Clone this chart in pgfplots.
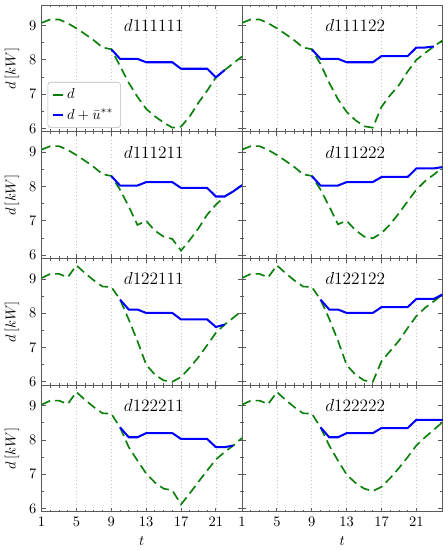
\documentclass[border=0pt]{standalone}
\usepackage{pgfplots}
\pgfplotsset{compat=1.18}
\usepgfplotslibrary{groupplots}
\definecolor{dgreen}{RGB}{10,128,10}
\definecolor{dblue}{RGB}{0,0,255}
\definecolor{framegray}{RGB}{90,90,90}
\pgfplotsset{
  dcurve/.style={dgreen, line width=1.15pt, dash pattern=on 6.5pt off 3.5pt},
  ucurve/.style={dblue, line width=1.4pt},
}
\newcommand{\ptitle}[2]{\node at (rel axis cs:#1,0.84) {\fontsize{11.5}{13}\selectfont $#2$};}
\begin{document}
\begin{tikzpicture}
\begin{groupplot}[
  group style={group size=2 by 4, horizontal sep=0pt, vertical sep=0pt,
    xticklabels at=edge bottom, yticklabels at=edge left,
    group name=G},
  width=138.6pt, height=87.6pt, scale only axis,
  xmin=1, xmax=24, ymin=5.9, ymax=9.6,
  xtick={1,5,9,13,17,21}, ytick={6,7,8,9},
  minor x tick num=3, minor y tick num=1,
  tick align=inside, tick pos=both,
  major tick length=2.8pt, minor tick length=1.6pt,
  axis line style={framegray, line width=0.7pt},
  every tick/.style={framegray, line width=0.6pt},
  xmajorgrids, grid style={gray!45, dotted, line width=0.5pt},
  legend cell align=left,
]
% ---- panel 1: d111111
\nextgroupplot[ylabel={$d\,[kW]$},
  legend style={at={(rel axis cs:0.03,0.03)}, anchor=south west, draw=gray!55, rounded corners=2pt, fill=white, inner xsep=3pt, inner ysep=2.5pt, row sep=1.5pt},
  legend image code/.code={\draw[#1] (0cm,0cm) -- (7pt,0cm);}]
\addplot[dcurve] coordinates {(1,9.08)(2,9.18)(3,9.18)(4,9.07)(5,8.92)(6,8.75)(7,8.57)(8,8.36)(9,8.31)(10,7.82)(11,7.33)(12,6.92)(13,6.57)(14,6.35)(15,6.17)(16,6.02)(17,6.05)(18,6.35)(19,6.75)(20,7.1)(21,7.49)(22,7.7)(23,7.9)(24,8.1)};
\addlegendentry{$d$}
\addplot[ucurve] coordinates {(9,8.31)(10,8.03)(11,8.03)(12,8.03)(13,7.93)(14,7.93)(15,7.93)(16,7.93)(17,7.74)(18,7.74)(19,7.74)(20,7.74)(21,7.49)(22,7.7)};
\addlegendentry{$d+\bar{u}^{**}$}
\ptitle{0.56}{d111111}
% ---- panel 2: d111122
\nextgroupplot
\addplot[dcurve] coordinates {(1,9.08)(2,9.18)(3,9.18)(4,9.07)(5,8.92)(6,8.75)(7,8.57)(8,8.36)(9,8.31)(10,7.88)(11,7.33)(12,6.85)(13,6.48)(14,6.24)(15,6.06)(16,6.02)(17,6.63)(18,6.97)(19,7.26)(20,7.66)(21,8.0)(22,8.2)(23,8.39)(24,8.57)};
\addplot[ucurve] coordinates {(9,8.31)(10,8.03)(11,8.03)(12,8.03)(13,7.93)(14,7.93)(15,7.93)(16,7.93)(17,8.11)(18,8.11)(19,8.11)(20,8.11)(21,8.36)(22,8.36)(23,8.39)};
\ptitle{0.565}{d111122}
% ---- panel 3: d111211
\nextgroupplot[ylabel={$d\,[kW]$}]
\addplot[dcurve] coordinates {(1,9.08)(2,9.18)(3,9.18)(4,9.07)(5,8.92)(6,8.75)(7,8.57)(8,8.36)(9,8.31)(10,7.91)(11,7.42)(12,6.88)(13,7.0)(14,6.71)(15,6.54)(16,6.47)(17,6.13)(18,6.44)(19,6.78)(20,7.18)(21,7.47)(22,7.71)(23,7.86)(24,8.04)};
\addplot[ucurve] coordinates {(9,8.31)(10,8.03)(11,8.03)(12,8.03)(13,8.13)(14,8.13)(15,8.13)(16,8.13)(17,7.96)(18,7.96)(19,7.96)(20,7.96)(21,7.71)(22,7.71)(23,7.86)(24,8.04)};
\ptitle{0.56}{d111211}
% ---- panel 4: d111222
\nextgroupplot
\addplot[dcurve] coordinates {(1,9.08)(2,9.18)(3,9.18)(4,9.07)(5,8.92)(6,8.75)(7,8.57)(8,8.36)(9,8.31)(10,7.91)(11,7.42)(12,6.9)(13,7.0)(14,6.73)(15,6.54)(16,6.49)(17,6.64)(18,6.9)(19,7.22)(20,7.57)(21,7.91)(22,8.16)(23,8.35)(24,8.55)};
\addplot[ucurve] coordinates {(9,8.31)(10,8.03)(11,8.03)(12,8.03)(13,8.13)(14,8.13)(15,8.13)(16,8.13)(17,8.28)(18,8.28)(19,8.28)(20,8.28)(21,8.53)(22,8.53)(23,8.53)(24,8.57)};
\ptitle{0.565}{d111222}
% ---- panel 5: d122111
\nextgroupplot[ylabel={$d\,[kW]$}]
\addplot[dcurve] coordinates {(1,9.03)(2,9.15)(3,9.15)(4,9.05)(5,9.4)(6,9.17)(7,8.96)(8,8.78)(9,8.77)(10,8.4)(11,7.82)(12,7.19)(13,6.5)(14,6.21)(15,6.04)(16,6.0)(17,6.14)(18,6.41)(19,6.72)(20,7.07)(21,7.43)(22,7.67)(23,7.87)(24,8.08)};
\addplot[ucurve] coordinates {(10,8.4)(11,8.11)(12,8.11)(13,8.01)(14,8.01)(15,8.01)(16,8.01)(17,7.82)(18,7.82)(19,7.82)(20,7.82)(21,7.6)(22,7.67)};
\ptitle{0.56}{d122111}
% ---- panel 6: d122122
\nextgroupplot
\addplot[dcurve] coordinates {(1,9.03)(2,9.15)(3,9.15)(4,9.05)(5,9.4)(6,9.17)(7,8.96)(8,8.78)(9,8.77)(10,8.4)(11,7.84)(12,7.2)(13,6.49)(14,6.21)(15,6.04)(16,6.0)(17,6.6)(18,6.9)(19,7.2)(20,7.57)(21,7.92)(22,8.16)(23,8.35)(24,8.55)};
\addplot[ucurve] coordinates {(10,8.4)(11,8.11)(12,8.11)(13,8.01)(14,8.01)(15,8.01)(16,8.01)(17,8.18)(18,8.18)(19,8.18)(20,8.18)(21,8.42)(22,8.42)(23,8.42)(24,8.55)};
\ptitle{0.565}{d122122}
% ---- panel 7: d122211
\nextgroupplot[ylabel={$d\,[kW]$}, xlabel={$t$}]
\addplot[dcurve] coordinates {(1,9.03)(2,9.15)(3,9.15)(4,9.05)(5,9.4)(6,9.17)(7,8.96)(8,8.78)(9,8.77)(10,8.37)(11,7.79)(12,7.4)(13,7.02)(14,6.76)(15,6.58)(16,6.53)(17,6.12)(18,6.44)(19,6.78)(20,7.11)(21,7.43)(22,7.65)(23,7.84)(24,8.06)};
\addplot[ucurve] coordinates {(10,8.37)(11,8.08)(12,8.08)(13,8.2)(14,8.2)(15,8.2)(16,8.2)(17,8.03)(18,8.03)(19,8.03)(20,8.03)(21,7.79)(22,7.79)(23,7.84)};
\ptitle{0.56}{d122211}
% ---- panel 8: d122222
\nextgroupplot[xlabel={$t$}]
\addplot[dcurve] coordinates {(1,9.03)(2,9.15)(3,9.15)(4,9.05)(5,9.4)(6,9.17)(7,8.96)(8,8.78)(9,8.77)(10,8.37)(11,7.84)(12,7.4)(13,6.99)(14,6.75)(15,6.58)(16,6.51)(17,6.63)(18,6.89)(19,7.18)(20,7.5)(21,7.84)(22,8.08)(23,8.3)(24,8.52)};
\addplot[ucurve] coordinates {(10,8.37)(11,8.08)(12,8.08)(13,8.2)(14,8.2)(15,8.2)(16,8.2)(17,8.35)(18,8.35)(19,8.35)(20,8.35)(21,8.59)(22,8.59)(23,8.59)(24,8.59)};
\ptitle{0.565}{d122222}
\end{groupplot}
\path ([yshift=3.5pt]G c1r1.north west) -- ([xshift=3.5pt]G c2r1.north east);
\end{tikzpicture}
\end{document}
